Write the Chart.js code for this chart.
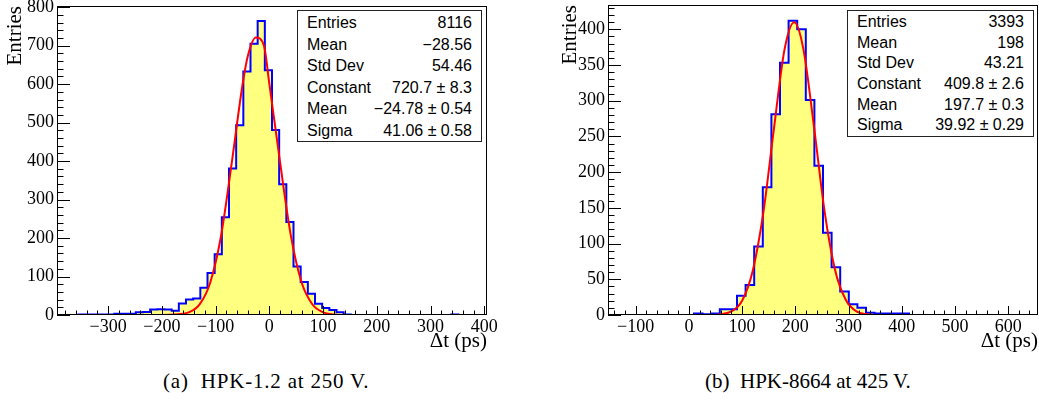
<!DOCTYPE html>
<html>
<head>
<meta charset="utf-8">
<script src="https://cdn.jsdelivr.net/npm/chart.js@4.4.0/dist/chart.umd.min.js"></script>
<style>
  body { margin: 0; width: 1039px; height: 404px; background: #fff; position: relative; overflow: hidden; }
  canvas { position: absolute; top: 0; }
  .stats { position: absolute; border: 1px solid #222; background: #fff; box-sizing: border-box;
           font-family: "Liberation Sans", Arial, sans-serif; font-size: 16px; color: #000; padding: 1px 9px 0 9px; }
  .stats div { display: flex; justify-content: space-between; }
  .cap { position: absolute; font-family: "Liberation Serif", "Times New Roman", serif; font-size: 21px;
         line-height: 21px; white-space: pre; color: #000; }
</style>
</head>
<body>
<canvas id="chartA" width="507" height="360" style="left:0"></canvas>
<canvas id="chartB" width="491" height="360" style="left:548px"></canvas>
<div class="stats" id="statsA" style="left:297px;top:10px;width:185px;height:132px"></div>
<div class="stats" id="statsB" style="left:847px;top:10px;width:187px;height:127px"></div>
<div class="cap" style="left:163px;top:371px;letter-spacing:0.8px">(a)  HPK-1.2 at 250 V.</div>
<div class="cap" style="left:705px;top:371px">(b)  HPK-8664 at 425 V.</div>
<script>
// (a) HPK-1.2 at 250 V : 60 bins
let rangeA = [-395, 405]
let countsA = [0, 0, 0, 1, 1, 1, 1, 1, 3, 3,
               3, 7, 8, 14, 15, 14, 11, 30, 40, 43,
               71, 109, 158, 254, 381, 493, 633, 705, 764, 636,
               481, 340, 242, 126, 86, 55, 29, 18, 13, 7,
               1, 0, 0, 0, 0, 0, 0, 0, 0, 0,
               0, 0, 0, 0, 0, 1, 0, 0, 0, 0]
let fitXA = [-395, -200, -170, -150, -130, -110, -90, -70, -50, -40, -25, -10, 0, 20, 40, 60, 80, 100, 120, 140, 405]
let fitYA = [0, 0, 2, 7, 27, 84, 204, 394, 597, 673, 721, 700, 601, 397, 207, 85, 28, 7, 1.4, 0, 0]
let statNamesA = ['Entries', 'Mean', 'Std Dev', 'Constant', 'Mean', 'Sigma']
let statValsA = ['8116', '\u221228.56', '54.46', '720.7 \u00b1 8.3', '\u221224.78 \u00b1 0.54', '41.06 \u00b1 0.58']

// (b) HPK-8664 at 425 V : 50 bins
let rangeB = [-152, 656]
let countsB = [0, 0, 0, 0, 0, 0, 0, 0, 0, 0,
               2, 1, 2, 8, 8, 27, 42, 96, 179, 281,
               353, 412, 400, 301, 209, 115, 67, 33, 15, 10,
               3, 2, 2, 2, 2, 0, 0, 0, 0, 0,
               0, 0, 0, 0, 0, 0, 0, 0, 0, 0]
let fitXB = [-152, 50, 60, 80, 100, 120, 140, 160, 180, 198, 215, 235, 255, 275, 295, 315, 335, 350, 656]
let fitYB = [0, 0, 1, 5, 20, 62, 144, 262, 373, 410, 373, 264, 145, 62, 21, 5, 1, 0, 0]
let statNamesB = ['Entries', 'Mean', 'Std Dev', 'Constant', 'Mean', 'Sigma']
let statValsB = ['3393', '198', '43.21', '409.8 \u00b1 2.6', '197.7 \u00b1 0.3', '39.92 \u00b1 0.29']

const serif = '"Liberation Serif", "Times New Roman", serif'

// ROOT style frame with ticks drawn inside
const rootFrame = {
  id: 'rootFrame',
  afterDatasetsDraw(chart, args, opts) {
    const { ctx, chartArea: a, scales: { x, y } } = chart
    ctx.save()
    ctx.strokeStyle = '#000'
    ctx.lineWidth = 1
    ctx.beginPath()
    for (let v = Math.ceil(x.min / opts.xMinor) * opts.xMinor; v <= x.max; v += opts.xMinor) {
      const px = Math.round(x.getPixelForValue(v)) + 0.5
      const len = v % opts.xMajor === 0 ? 9 : 4.5
      ctx.moveTo(px, a.bottom)
      ctx.lineTo(px, a.bottom - len)
    }
    for (let v = 0; v <= y.max; v += opts.yMinor) {
      const py = Math.round(y.getPixelForValue(v)) + 0.5
      const len = v % opts.yMajor === 0 ? 13 : 6.5
      ctx.moveTo(a.left, py)
      ctx.lineTo(a.left + len, py)
    }
    ctx.stroke()
    ctx.strokeRect(a.left + 0.5, a.top + 0.5, a.right - a.left - 1, a.bottom - a.top - 1)
    ctx.restore()
  }
}

function minus(v) {
  return String(v).replace('-', '\u2212')
}

// labelled ticks on round multiples of the step only
function roundTicks(step) {
  return s => {
    const t = []
    for (let v = Math.ceil(s.min / step) * step; v <= s.max; v += step) t.push({ value: v })
    s.ticks = t
  }
}

function histPoints(range, counts) {
  const w = (range[1] - range[0]) / counts.length
  const pts = counts.map((c, k) => ({ x: range[0] + k * w, y: c }))
  pts.push({ x: range[1], y: counts[counts.length - 1] })
  return pts
}

function makeChart(id, range, counts, fitX, fitY, yMax, yStep, yMinor, yWidth, titlePad, padRight, padTop) {
  const ctx = document.getElementById(id).getContext('2d')
  return new Chart(ctx, {
    type: 'line',
    data: {
      datasets: [{
        label: 'fit',
        data: fitX.map((x, i) => ({ x: x, y: fitY[i] })),
        borderColor: '#ff0000',
        borderWidth: 2,
        pointRadius: 0,
        cubicInterpolationMode: 'monotone',
        fill: false
      }, {
        label: 'hist',
        data: histPoints(range, counts),
        borderColor: '#0000ff',
        backgroundColor: '#ffff80',
        borderWidth: 2,
        pointRadius: 0,
        stepped: 'before',
        fill: 'origin'
      }]
    },
    options: {
      responsive: false,
      animation: false,
      devicePixelRatio: 1,
      layout: { padding: { left: 0, top: padTop, right: padRight, bottom: 0 } },
      plugins: {
        legend: { display: false },
        tooltip: { enabled: false },
        rootFrame: { xMajor: 100, xMinor: 20, yMajor: yStep, yMinor: yMinor }
      },
      scales: {
        x: {
          type: 'linear',
          min: range[0],
          max: range[1],
          grid: { display: false, drawTicks: false },
          border: { display: false },
          afterBuildTicks: roundTicks(100),
          ticks: {
            autoSkip: false, maxRotation: 0, padding: 1,
            color: '#000', font: { family: serif, size: 18 },
            callback: v => minus(v)
          },
          title: {
            display: true, text: '\u0394t (ps)', align: 'end', color: '#000',
            font: { family: serif, size: 21, lineHeight: 1 },
            padding: { top: 0, bottom: 8.5 }
          },
          afterFit: s => { s.height = 45; s.paddingLeft = 0; s.paddingRight = 0 }
        },
        y: {
          min: 0,
          max: yMax,
          grid: { display: false, drawTicks: false },
          border: { display: false },
          afterBuildTicks: roundTicks(yStep),
          ticks: {
            autoSkip: false, padding: 3,
            color: '#000', font: { family: serif, size: 18 }
          },
          title: {
            display: true, text: 'Entries', align: 'end', color: '#000',
            font: { family: serif, size: 21, lineHeight: 1 },
            padding: { top: titlePad, bottom: 0 }
          },
          afterFit: s => { s.width = yWidth; s.paddingTop = 0; s.paddingBottom = 0 }
        }
      }
    },
    plugins: [rootFrame]
  })
}

function fillStats(id, names, vals) {
  const box = document.getElementById(id)
  const h = (box.clientHeight - 1) / names.length
  names.forEach((n, i) => {
    const row = document.createElement('div')
    row.style.height = h + 'px'
    row.style.lineHeight = h + 'px'
    row.innerHTML = '<span>' + n + '</span><span>' + vals[i] + '</span>'
    box.appendChild(row)
  })
}

makeChart('chartA', rangeA, countsA, fitXA, fitYA, 803, 100, 20, 57, 5, 20, 6)
makeChart('chartB', rangeB, countsB, fitXB, fitYB, 434, 50, 10, 60, 11.5, 1, 5)
fillStats('statsA', statNamesA, statValsA)
fillStats('statsB', statNamesB, statValsB)
</script>
</body>
</html>
